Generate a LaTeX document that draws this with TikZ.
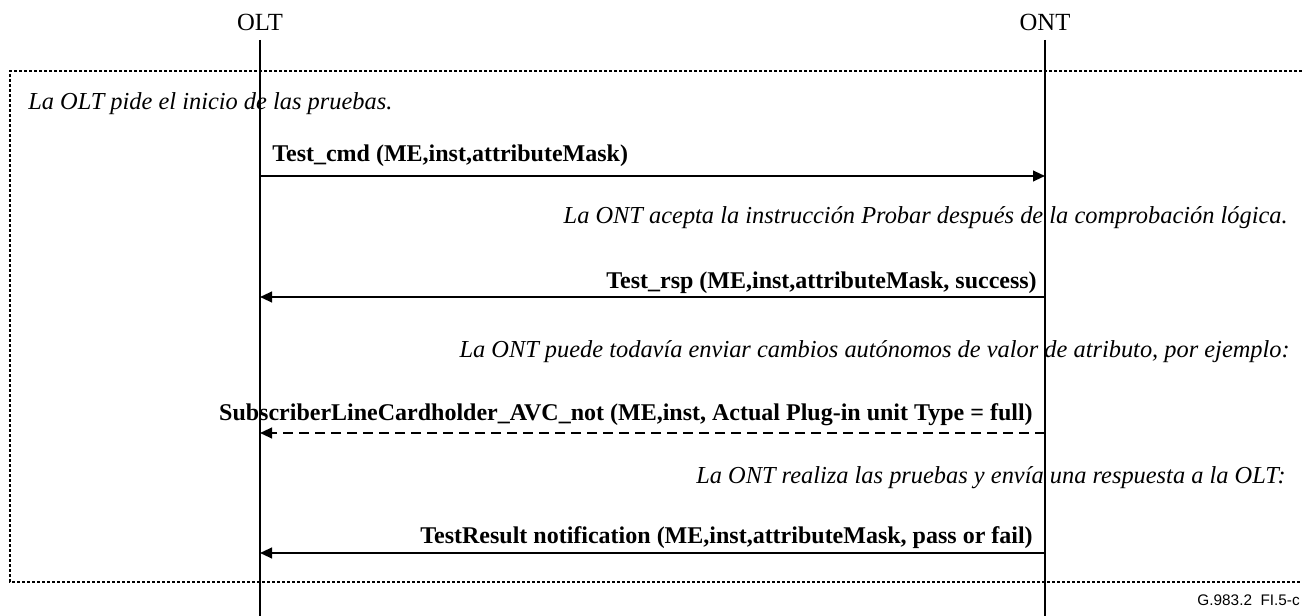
\documentclass[tikz,border=0pt]{standalone}
\usepackage{fontspec}
\setmainfont{Liberation Serif}
\newfontfamily\tagfont{Liberation Sans}
\usetikzlibrary{arrows.meta}
\tikzset{
  msg/.style={line width=1.5pt, -{Triangle[length=9pt,width=8pt]}},
  note/.style={font=\fontsize{18.3}{22}\selectfont\itshape, inner sep=0pt},
  lbl/.style={font=\fontsize{18}{22}\selectfont\bfseries, inner sep=0pt},
  actor/.style={font=\fontsize{18.5}{22}\selectfont, inner sep=0pt, anchor=base},
}
\begin{document}
\begin{tikzpicture}[x=0.75pt, y=-0.75pt]
    \useasboundingbox (0,0) rectangle (1302,616);
    \node[actor] (olt) at (260,31) {OLT};
    \node[actor] (ont) at (1045,31) {ONT};
    \coordinate (oltend) at (260,616);
    \coordinate (ontend) at (1045,616);
    \draw[line width=1.5pt] (260,40) -- (oltend);
    \draw[line width=1.5pt] (1045,40) -- (ontend);
    % dotted frame, open on the right
    \draw[line width=1.1pt, dash pattern=on 2.25pt off 1.5pt] (1302,71) -- (10,71) -- (10,582) -- (1302,582);
    % message levels on both lifelines
    \foreach \n/\y in {cmd/176, rsp/297, avc/433, res/553}{
        \coordinate (olt-\n) at (260,\y);
        \coordinate (ont-\n) at (1045,\y);
    }
    \node[note, anchor=base west] (n1) at (28,110) {La OLT pide el inicio de las pruebas.};
    \node[lbl, anchor=base west] (m1) at (272,162) {Test\_cmd (ME,inst,attributeMask)};
    \draw[msg] (olt-cmd) -- (ont-cmd);
    \node[note, anchor=base east] (n2) at (1288,224) {La ONT acepta la instrucción Probar después de la comprobación lógica.};
    \node[lbl, anchor=base east] (m2) at (1037,289) {Test\_rsp (ME,inst,attributeMask, success)};
    \draw[msg] (ont-rsp) -- (olt-rsp);
    \node[note, anchor=base east] (n3) at (1290,358) {La ONT puede todavía enviar cambios autónomos de valor de atributo, por ejemplo:};
    \node[lbl, anchor=base east] (m3) at (1033,420) {SubscriberLineCardholder\_AVC\_not (ME,inst, Actual Plug-in unit Type = full)};
    \draw[msg, dash pattern=on 7.5pt off 4.5pt] (ont-avc) -- (olt-avc);
    \node[note, anchor=base east] (n4) at (1286,483) {La ONT realiza las pruebas y envía una respuesta a la OLT:};
    \node[lbl, anchor=base east] (m4) at (1033,543) {TestResult notification (ME,inst,attributeMask, pass or fail)};
    \draw[msg] (ont-res) -- (olt-res);
    \node[inner sep=0pt, anchor=base east, font=\tagfont\fontsize{11.5}{13}\selectfont] (tag) at (1300,605) {G.983.2\ \ FI.5-c};
\end{tikzpicture}
\end{document}
